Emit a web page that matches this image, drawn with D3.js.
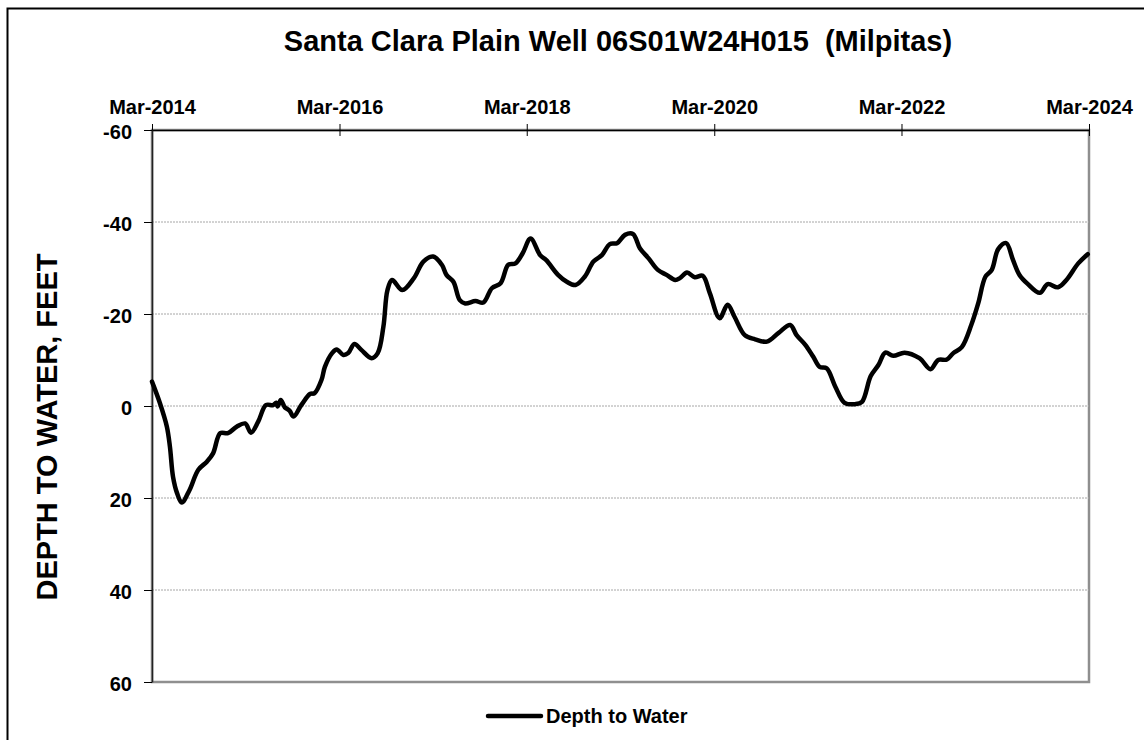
<!DOCTYPE html>
<meta charset="utf-8">
<script src="https://d3js.org/d3.v7.min.js"></script>
<style>
  body { margin: 0; background: #fff; }
  text { font-family: "Liberation Sans", Arial, sans-serif; font-weight: bold; fill: #000; }
</style>
<svg id="chart" width="1144" height="740"></svg>
<script>

// measurement dates and depth to water (feet, negative = above reference)
var dates = [
  "2014-03-01","2014-04-01","2014-04-28","2014-05-10","2014-05-22","2014-06-07","2014-06-25","2014-07-25","2014-08-28","2014-10-01",
  "2014-10-25","2014-11-22","2014-12-22","2015-01-25","2015-02-27","2015-03-22","2015-04-19","2015-05-19",
  "2015-06-16","2015-06-28","2015-07-04","2015-07-16","2015-08-01","2015-08-19","2015-09-04","2015-10-04",
  "2015-11-07","2015-11-25","2015-12-22","2016-01-04","2016-02-01","2016-02-19","2016-03-16","2016-04-04",
  "2016-04-28","2016-05-25","2016-07-04","2016-07-28","2016-08-19","2016-09-04","2016-09-22","2016-11-01",
  "2016-12-16","2017-01-22","2017-03-01","2017-04-04","2017-04-22","2017-05-19","2017-06-13","2017-07-04",
  "2017-08-13","2017-09-13","2017-10-16","2017-11-19","2017-12-19","2018-01-16","2018-02-13","2018-03-16",
  "2018-04-22","2018-05-16","2018-07-01","2018-08-04","2018-09-07","2018-10-13","2018-11-16","2018-12-19",
  "2019-01-19","2019-02-16","2019-03-19","2019-04-19","2019-05-16","2019-06-19","2019-07-25","2019-08-28",
  "2019-10-01","2019-10-19","2019-11-16","2019-12-16","2020-01-16","2020-02-13","2020-03-22","2020-04-22",
  "2020-05-19","2020-06-28","2020-08-07","2020-09-22","2020-11-07","2020-12-22","2021-01-16","2021-02-19",
  "2021-03-22","2021-04-16","2021-05-13","2021-06-16","2021-07-22","2021-09-01","2021-09-28","2021-11-01",
  "2021-12-01","2021-12-28","2022-01-28","2022-03-13","2022-05-10","2022-06-22","2022-07-22","2022-08-25",
  "2022-09-19","2022-10-22","2022-11-28","2022-12-25","2023-01-22","2023-02-16","2023-03-13","2023-04-13",
  "2023-05-10","2023-06-04","2023-07-07","2023-08-22","2023-09-22","2023-11-01","2023-12-04","2024-01-19",
  "2024-02-25"
];
var depth = [
  -5.3, -0.6, 4.5, 8.9, 15.4, 19.0, 21.0, 18.3, 13.9, 12.1,
  10.3, 5.9, 5.9, 4.5, 3.8, 5.8, 3.4, -0.2,
  -0.2, -0.7, 0.1, -1.3, 0.3, 1.0, 2.3, -0.2,
  -2.6, -2.8, -5.7, -8.5, -11.5, -12.3, -11.1, -11.5,
  -13.5, -12.2, -10.4, -11.5, -17.2, -25.2, -27.4, -25.2,
  -27.8, -31.4, -32.5, -30.7, -28.5, -27.0, -23.0, -22.3,
  -22.8, -22.5, -25.6, -26.7, -30.7, -31.0, -33.2, -36.4,
  -32.8, -31.7, -28.5, -27.0, -26.3, -28.1, -31.4, -32.8,
  -35.2, -35.4, -37.2, -37.4, -34.3, -32.1, -29.6, -28.5,
  -27.4, -27.8, -29.0, -28.0, -28.3, -24.5, -19.1, -22.0,
  -19.4, -15.4, -14.5, -14.0, -15.9, -17.6, -15.4, -13.3,
  -10.7, -8.5, -8.2, -4.2, -0.7, -0.4, -0.9, -6.5,
  -8.9, -11.6, -10.9, -11.6, -10.4, -8.0, -10.0, -10.1,
  -11.5, -12.8, -17.6, -22.3, -28.1, -29.6, -34.1, -35.4,
  -31.7, -28.5, -26.5, -24.6, -26.5, -25.8, -27.4, -31.0,
  -33.0
];

// axis ticks
var xTicks = ["2014-03-01","2016-03-01","2018-03-01","2020-03-01","2022-03-01","2024-03-01"];
var yTicks = [-60, -40, -20, 0, 20, 40, 60];
var gridValues = [-40, -20, 0, 20, 40];

var parseDate = d3.timeParse("%Y-%m-%d");
var data = dates.map(function(d, i) { return { date: parseDate(d), value: depth[i] }; });

var svg = d3.select("#chart");

// plot area
var plotL = 152, plotR = 1089, plotT = 130, plotB = 682;

var x = d3.scaleTime()
  .domain([parseDate("2014-03-01"), parseDate("2024-03-01")])
  .range([plotL, plotR]);

var y = d3.scaleLinear()
  .domain([-60, 60])
  .range([plotT, plotB]);

// outer chart frame (runs past the window on the right and bottom)
svg.append("rect")
  .attr("x", 7.5).attr("y", 8.5)
  .attr("width", 1160).attr("height", 760)
  .attr("fill", "#fff")
  .attr("stroke", "#000")
  .attr("stroke-width", 2);

// title
svg.append("text")
  .attr("x", 618)
  .attr("y", 51)
  .attr("text-anchor", "middle")
  .style("font-size", "29px")
  .style("white-space", "pre")
  .text("Santa Clara Plain Well 06S01W24H015  (Milpitas)");

// plot area border (gray on right / bottom)
svg.append("rect")
  .attr("x", plotL).attr("y", plotT)
  .attr("width", plotR - plotL).attr("height", plotB - plotT)
  .attr("fill", "none")
  .attr("stroke", "#8f8f8f")
  .attr("stroke-width", 2.5);

// gridlines
svg.append("g")
  .selectAll("line")
  .data(gridValues)
  .enter()
  .append("line")
    .attr("x1", plotL).attr("x2", plotR)
    .attr("y1", function(d) { return y(d); })
    .attr("y2", function(d) { return y(d); })
    .attr("stroke", "#a6a6a6")
    .attr("stroke-width", 1)
    .attr("stroke-dasharray", "2,1");

// top date axis
var xAxis = svg.append("g")
  .attr("transform", "translate(0," + plotT + ")")
  .call(d3.axisTop(x)
    .tickValues(xTicks.map(parseDate))
    .tickFormat(d3.timeFormat("%b-%Y"))
    .tickSize(6)
    .tickSizeOuter(0)
    .tickPadding(10));
xAxis.select(".domain").attr("stroke", "#000").attr("stroke-width", 1.5);
xAxis.selectAll(".tick line").attr("y1", 6).attr("stroke", "#000");
xAxis.selectAll(".tick text").style("font-size", "20px");

// left depth axis (plain hyphen for negatives, as in the original)
var yAxis = svg.append("g")
  .attr("transform", "translate(" + plotL + ",0)")
  .call(d3.axisLeft(y)
    .tickValues(yTicks)
    .tickFormat(function(d) { return String(d); })
    .tickSize(8)
    .tickSizeOuter(0)
    .tickPadding(12));
yAxis.select(".domain").attr("stroke", "#222").attr("stroke-width", 1.5);
yAxis.selectAll(".tick line").attr("stroke", "#000");
yAxis.selectAll(".tick text").style("font-size", "20px").attr("dy", "0.42em");

// y axis title
svg.append("text")
  .attr("transform", "translate(57,427) rotate(-90)")
  .attr("text-anchor", "middle")
  .style("font-size", "29px")
  .text("DEPTH TO WATER, FEET");

// the hydrograph
var line = d3.line()
  .x(function(d) { return x(d.date); })
  .y(function(d) { return y(d.value); })
  .curve(d3.curveCatmullRom.alpha(0.5));

svg.append("path")
  .datum(data)
  .attr("d", line)
  .attr("fill", "none")
  .attr("stroke", "#000")
  .attr("stroke-width", 4.5)
  .attr("stroke-linejoin", "round")
  .attr("stroke-linecap", "round");

// legend
var legend = svg.append("g").attr("transform", "translate(0,716)");
legend.append("line")
  .attr("x1", 488).attr("x2", 541)
  .attr("y1", 0).attr("y2", 0)
  .attr("stroke", "#000")
  .attr("stroke-width", 4.5)
  .attr("stroke-linecap", "round");
legend.append("text")
  .attr("x", 546)
  .attr("y", 7)
  .style("font-size", "20px")
  .text("Depth to Water");

</script>
